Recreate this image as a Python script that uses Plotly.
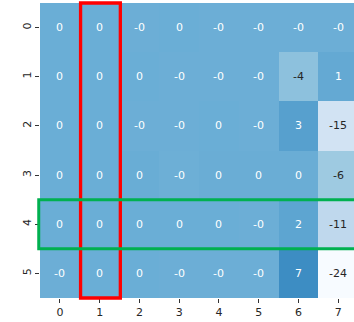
import plotly.graph_objects as go

rows = [0, 1, 2, 3, 4, 5]
cols = [0, 1, 2, 3, 4, 5, 6, 7]
values = [
    [0.1, 0.1, -0.1, 0.1, -0.1, -0.1, -0.1, -0.1],
    [0.1, 0.1, 0.1, -0.1, -0.1, -0.1, -4.0, 1.0],
    [0.1, 0.1, -0.1, -0.1, 0.1, -0.1, 3.0, -15.0],
    [0.1, 0.1, 0.3, -0.2, 0.2, 0.2, 0.2, -6.0],
    [0.1, 0.1, 0.1, 0.1, 0.1, -0.1, 2.0, -11.0],
    [-0.1, 0.1, 0.1, -0.1, -0.1, -0.1, 7.0, -24.0],
]
highlight_col = 1
highlight_row = 4

blues = ["#f7fbff", "#deebf7", "#c6dbef", "#9ecae1", "#6baed6",
         "#4292c6", "#2171b5", "#08519c", "#08306b"]
colorscale = [[i / (len(blues) - 1), c] for i, c in enumerate(blues)]
zmin, zmax = -24, 24


def hex_rgb(h):
    h = h.lstrip("#")
    return [int(h[i:i + 2], 16) / 255 for i in (0, 2, 4)]


def cell_color(v):
    t = (v - zmin) / (zmax - zmin)
    t = min(max(t, 0), 1)
    pos = t * (len(blues) - 1)
    i = min(int(pos), len(blues) - 2)
    f = pos - i
    a, b = hex_rgb(blues[i]), hex_rgb(blues[i + 1])
    return [a[k] + (b[k] - a[k]) * f for k in range(3)]


def luminance(rgb):
    lin = [c / 12.92 if c <= 0.03928 else ((c + 0.055) / 1.055) ** 2.4 for c in rgb]
    return 0.2126 * lin[0] + 0.7152 * lin[1] + 0.0722 * lin[2]


fig = go.Figure(go.Heatmap(
    z=values, x=cols, y=rows, colorscale=colorscale, zmin=zmin, zmax=zmax,
    showscale=False, hoverinfo="skip",
))

annotations = []
for r, rowvals in zip(rows, values):
    for c, v in zip(cols, rowvals):
        txt = f"{v:.0f}"
        color = "#262626" if luminance(cell_color(v)) > 0.408 else "#ffffff"
        annotations.append(dict(x=c, y=r, xref="x", yref="y", text=txt,
                                showarrow=False,
                                font=dict(size=11, color=color, family="DejaVu Sans")))

shapes = [
    dict(type="rect", xref="x", yref="paper", x0=highlight_col - 0.48, x1=highlight_col + 0.52,
         y0=0.0, y1=1.0, line=dict(color="#ff0000", width=3.3), layer="above"),
    dict(type="rect", xref="paper", yref="y", x0=-0.004, x1=1.05,
         y0=highlight_row - 0.5, y1=highlight_row + 0.5,
         line=dict(color="#00b050", width=3), layer="above"),
]

fig.update_layout(
    width=354, height=322,
    margin=dict(l=40, r=0, t=3, b=24),
    paper_bgcolor="white", plot_bgcolor="white",
    font=dict(family="DejaVu Sans", size=11, color="#262626"),
    annotations=annotations, shapes=shapes,
    xaxis=dict(range=[-0.5, 7.395], tickvals=cols, ticktext=[str(c) for c in cols],
               ticks="outside", ticklen=4, tickcolor="#333333", showgrid=False,
               zeroline=False, showline=False, fixedrange=True),
    yaxis=dict(range=[5.5, -0.5], tickvals=rows, ticktext=[str(r) for r in rows],
               ticks="outside", ticklen=4, tickcolor="#333333", tickangle=-90,
               showgrid=False, zeroline=False, showline=False, fixedrange=True),
)

fig.write_html("out.html", config={"displayModeBar": False},
               post_script="document.body.style.margin='0';document.body.style.overflow='hidden';")
